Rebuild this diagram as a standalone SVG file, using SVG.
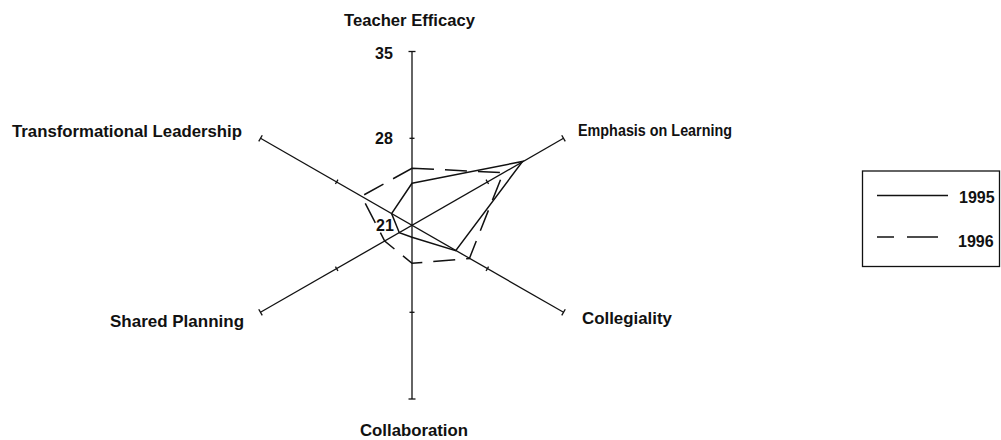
<svg xmlns="http://www.w3.org/2000/svg" width="1001" height="440" viewBox="0 0 1001 440">
<style>
.ax{stroke:#111;stroke-width:1.3;fill:none}
.tk{stroke:#111;stroke-width:1.3;fill:none}
.s95{stroke:#111;stroke-width:1.5;fill:none;stroke-linejoin:miter}
.s96{stroke:#111;stroke-width:1.5;fill:none;stroke-dasharray:22 11}
.lb{font-family:"Liberation Sans",Arial,sans-serif;font-size:16.5px;font-weight:bold;fill:#111}
.nm{font-family:"Liberation Sans",Arial,sans-serif;font-size:16px;font-weight:bold;fill:#111}
</style>
<rect width="1001" height="440" fill="#fff"/>
<g id="axes">
<line class="ax" x1="412" y1="51.5" x2="412" y2="399"/>
<line class="ax" x1="260.5" y1="138.3" x2="563.5" y2="312.3"/>
<line class="ax" x1="260.5" y1="312.3" x2="563.5" y2="138.3"/>
</g>
<g id="ticks">
<line class="tk" x1="408.5" y1="51.5" x2="415.5" y2="51.5"/>
<line class="tk" x1="409.5" y1="138.3" x2="414.5" y2="138.3"/>
<line class="tk" x1="408.5" y1="399" x2="415.5" y2="399"/>
<line class="tk" x1="409.5" y1="312.3" x2="414.5" y2="312.3"/>
<line class="tk" x1="561.75" y1="135.27" x2="565.25" y2="141.33"/>
<line class="tk" x1="486.05" y1="179.63" x2="488.55" y2="183.97"/>
<line class="tk" x1="565.25" y1="309.27" x2="561.75" y2="315.33"/>
<line class="tk" x1="488.55" y1="266.63" x2="486.05" y2="270.97"/>
<line class="tk" x1="258.75" y1="309.27" x2="262.25" y2="315.33"/>
<line class="tk" x1="335.45" y1="266.63" x2="337.95" y2="270.97"/>
<line class="tk" x1="262.25" y1="135.27" x2="258.75" y2="141.33"/>
<line class="tk" x1="337.95" y1="179.63" x2="335.45" y2="183.97"/>
</g>
<g id="series-1995">
<polygon class="s95" points="412,183.3 522.6,161.4 455.7,250.6 412,237.3 399.3,232.7 391.6,213.5"/>
</g>
<g id="series-1996">
<polygon class="s96" points="412,168.3 503.3,172.6 469.4,258.5 412,263.3 384.7,241.1 361.6,196.2"/>
</g>
<g id="axis-labels">
<text class="lb" x="344" y="26" textLength="131" lengthAdjust="spacingAndGlyphs">Teacher Efficacy</text>
<text class="lb" x="578" y="136" textLength="154" lengthAdjust="spacingAndGlyphs">Emphasis on Learning</text>
<text class="lb" x="12" y="137" textLength="230" lengthAdjust="spacingAndGlyphs">Transformational Leadership</text>
<text class="lb" x="110" y="326.5" textLength="134" lengthAdjust="spacingAndGlyphs">Shared Planning</text>
<text class="lb" x="582" y="324" textLength="90" lengthAdjust="spacingAndGlyphs">Collegiality</text>
<text class="lb" x="360" y="436" textLength="108" lengthAdjust="spacingAndGlyphs">Collaboration</text>
</g>
<g id="scale-labels">
<text class="nm" x="375" y="58.5">35</text>
<text class="nm" x="375" y="144">28</text>
<text class="nm" x="376" y="230.5">21</text>
</g>
<g id="legend">
<rect x="862.5" y="171" width="137" height="95.5" fill="none" stroke="#111" stroke-width="1.3"/>
<line x1="877" y1="195.5" x2="948" y2="195.5" stroke="#111" stroke-width="1.5"/>
<line x1="877" y1="237" x2="894" y2="237" stroke="#111" stroke-width="1.5"/>
<line x1="907" y1="237" x2="938" y2="237" stroke="#111" stroke-width="1.5"/>
<text class="nm" x="959" y="203">1995</text>
<text class="nm" x="958" y="246.5">1996</text>
</g>
</svg>
